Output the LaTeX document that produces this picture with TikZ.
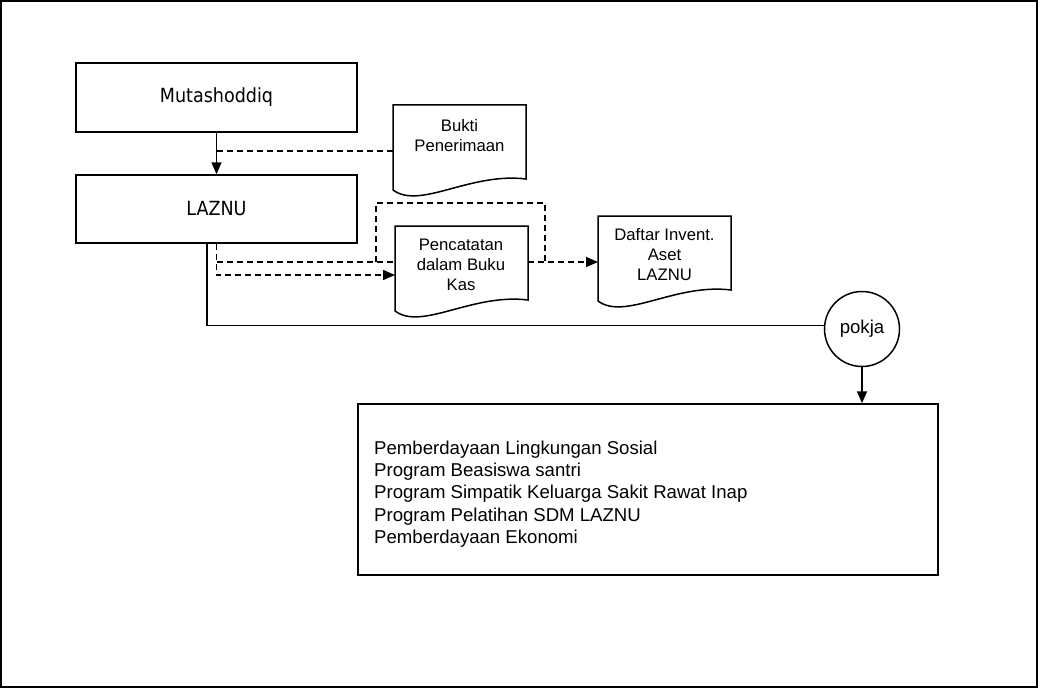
\documentclass[tikz,border=0pt]{standalone}
\usepackage{fontspec}
\setmainfont{Liberation Sans}
\newfontfamily\tahoma{DejaVu Sans Condensed}
\usetikzlibrary{arrows.meta}

\tikzset{
    kotak/.style={rectangle, draw, line width=1.5pt, minimum width=281pt, minimum height=69pt, font=\tahoma\fontsize{19.5}{23}\selectfont},
    doktext/.style={anchor=north, inner sep=0pt, align=center, font=\fontsize{16.7}{20}\selectfont},
    garis/.style={draw, line width=1.5pt},
    putus/.style={draw, line width=1.5pt, dash pattern=on 6pt off 4pt},
    panah/.style={-{Triangle[length=12pt,width=10pt]}}
}

\newcommand{\dokumen}[3]{%
    \draw[garis] (#2,#3) coordinate (#1-nw) -- (#2,#3+85)
        .. controls (#2+27,#3+105) and (#2+77,#3+67) .. (#2+133,#3+74)
        -- (#2+133,#3) coordinate (#1-ne) -- cycle;
}

\begin{document}
\begin{tikzpicture}[x=1pt,y=-1pt]
    \useasboundingbox (0,0) rectangle (1040,690);
    \draw[line width=2pt] (1,1) rectangle (1037,687);

    \node[kotak] (mutashoddiq) at (216.5,97.5) {Mutashoddiq};
    \node[kotak, minimum height=68pt] (laznu) at (216.5,209) {LAZNU};

    \dokumen{bukti}{393}{105}
    \dokumen{pencatatan}{395}{226}
    \dokumen{daftar}{598}{216}

    \begin{scope}[every node/.style={doktext}]
        \node (buktitext) at (459.5,119) {Bukti\\Penerimaan};
        \node (pencatatantext) at (461,239) {Pencatatan\\dalam Buku\\Kas};
        \node (daftartext) at (664.5,228) {Daftar Invent.\\Aset\\LAZNU};
    \end{scope}

    \node[circle, garis, minimum size=75pt, inner sep=0pt, font=\fontsize{18.6}{22}\selectfont] (pokja) at (862,329) {pokja};
    \node[rectangle, garis, minimum width=580pt, minimum height=171pt] (program) at (648,489.5) {};
    \node[anchor=west, inner sep=0pt, align=left, font=\fontsize{18.6}{22.3}\selectfont] (programtext) at (374,494)
        {Pemberdayaan Lingkungan Sosial\\Program Beasiswa santri\\Program Simpatik Keluarga Sakit Rawat Inap\\Program Pelatihan SDM LAZNU\\Pemberdayaan Ekonomi};

    \coordinate (kb) at (mutashoddiq.south |- 0,151);
    \coordinate (lp1) at (376,262);
    \coordinate (lp2) at (376,203);
    \coordinate (lp3) at (545,203);
    \coordinate (lp4) at (545,262);

    \draw[garis, panah] (mutashoddiq.south) -- (laznu.north);
    \draw[putus] (kb) -- (kb -| bukti-nw);
    \draw[putus, panah] (laznu.south) |- (pencatatan-nw |- 0,275);
    \draw[putus] (laznu.south |- lp1) -- (pencatatan-nw |- lp1);
    \draw[putus] (lp1) -- (lp2) -- (lp3) -- (lp4);
    \draw[putus, panah] (pencatatan-ne |- lp4) -- (daftar-nw |- lp4);
    \draw[garis] (laznu.south -| 207,0) |- (pokja.175);
    \draw[garis, panah] (pokja.south) -- (pokja.south |- program.north);
\end{tikzpicture}
\end{document}
